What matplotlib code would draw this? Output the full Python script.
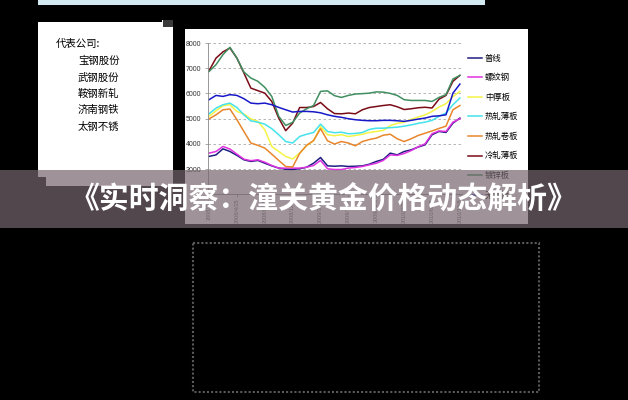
import matplotlib
matplotlib.use('Agg')
import matplotlib.pyplot as plt
from matplotlib.patches import Rectangle, Polygon

plt.rcParams['font.family'] = ['Noto Sans CJK SC', 'DejaVu Sans']

# ---------------- data ----------------
companies_title = "代表公司:"
companies = ["宝钢股份", "武钢股份", "鞍钢新轧", "济南钢铁", "太钢不锈"]

series_names = ["普线", "螺纹钢", "中厚板", "热轧薄板", "热轧卷板", "冷轧薄板", "镀锌板", "无缝管"]
series_colors = ["#1e1e82", "#e032e0", "#f4f445", "#44e2ea", "#e8862c", "#7a0c16", "#3f8f60", "#1818c8"]

puxian = [3500, 3560, 3800, 3695, 3540, 3365, 3300, 3340, 3230, 3125, 3035, 2990, 2980,
          3010, 3070, 3230, 3455, 3125, 3110, 3125, 3100, 3110, 3125, 3190, 3300, 3380,
          3630, 3560, 3695, 3760, 3870, 3960, 4360, 4490, 4450, 4820, 5020]
luowen = [3630, 3695, 3895, 3790, 3590, 3390, 3330, 3365, 3270, 3140, 3035, 3035, 3035,
          3035, 3070, 3140, 3340, 3010, 2980, 2980, 3035, 3060, 3100, 3165, 3230, 3340,
          3560, 3540, 3615, 3730, 3880, 4000, 4400, 4510, 4490, 4860, 4995]
zhonghou = [5090, 5310, 5510, 5550, 5285, 5180, 4990, 4890, 4560, 3895, 3695, 3500, 3400,
            3630, 3920, 4120, 4680, 4360, 4320, 4360, 4290, 4330, 4380, 4450, 4490, 4530,
            4720, 4810, 4860, 4970, 5060, 5150, 5285, 5460, 5590, 5870, 6080]
rezha_bo = [5190, 5415, 5550, 5615, 5440, 5150, 4910, 4860, 4780, 4600, 4360, 4090, 4030,
            4290, 4380, 4450, 4780, 4490, 4440, 4460, 4400, 4410, 4450, 4570, 4620, 4620,
            4640, 4660, 4700, 4750, 4810, 4860, 4930, 5090, 5220, 5550, 5815]
rezha_juan = [4990, 5150, 5350, 5380, 4955, 4490, 4030, 3940, 3830, 3590, 3340, 3100, 3080,
              3620, 3940, 4130, 4600, 4120, 3990, 4090, 4030, 3920, 4090, 4170, 4225, 4340,
              4380, 4200, 4090, 4200, 4330, 4420, 4510, 4610, 4700, 5350, 5520]
lengzha_bo = [6900, 7400, 7650, 7800, 7400, 6810, 6210, 6110, 6010, 5680, 5020, 4520, 4820,
              5440, 5440, 5480, 5640, 5390, 5200, 5190, 5220, 5190, 5350, 5440, 5480, 5520,
              5550, 5470, 5360, 5390, 5430, 5450, 5420, 5770, 5920, 6480, 6715]
duxin = [6870, 7140, 7540, 7830, 7400, 6850, 6610, 6480, 6240, 5880, 5090, 4730, 4850,
         5220, 5390, 5520, 6080, 6100, 5910, 5840, 5920, 5975, 5990, 6010, 6060, 6050,
         6000, 5920, 5750, 5720, 5720, 5720, 5680, 5840, 5950, 6570, 6715]
wufeng = [5750, 5920, 5880, 5950, 5920, 5790, 5615, 5590, 5615, 5550, 5445, 5350, 5260,
          5285, 5285, 5270, 5230, 5150, 5090, 5050, 4995, 4955, 4930, 4915, 4915, 4930,
          4930, 4915, 4890, 4930, 4980, 5020, 5090, 5110, 5150, 6010, 6370]

x_tick_pos = [0, 4, 8, 12, 16, 20, 24, 28, 32, 36]
x_tick_labels = ["2008/1/4", "2008/4/25", "2008/8/15", "2008/12/5", "2009/3/27",
                 "2009/7/17", "2009/11/6", "2010/2/26", "2010/6/18", "2010/10/8"]
y_ticks = [3000, 4000, 5000, 6000, 7000, 8000]

banner_text = "《实时洞察：潼关黄金价格动态解析》"

# ---------------- layout ----------------
W, H = 628, 400
fig = plt.figure(figsize=(6.28, 4.0), dpi=100, facecolor='black')


def px_axes(x0, y0, x1, y1):
    return fig.add_axes([x0 / W, 1 - y1 / H, (x1 - x0) / W, (y1 - y0) / H])


bg = px_axes(0, 0, W, H)
bg.set_xlim(0, W)
bg.set_ylim(H, 0)
bg.axis('off')
bg.set_zorder(0)

# top strip
bg.add_patch(Rectangle((38, 0), 447, 4.5, color='#d4eaf3', lw=0))
# left white box
bg.add_patch(Polygon([(38, 22), (162, 22), (162, 20), (173, 20), (173, 186),
                      (46, 186), (46, 177), (38, 177)], closed=True, color='white', lw=0))
bg.add_patch(Rectangle((163, 20), 10, 7, color='#3a3a3a', lw=0))
bg.text(56, 44, companies_title, fontsize=7.5, color='black', va='center', ha='left')
for i, c in enumerate(companies):
    bg.text(78, 61 + i * 16.4, c, fontsize=7.5, color='black', va='center', ha='left')

# chart white area
bg.add_patch(Rectangle((185, 29), 343, 195, color='white', lw=0))

# bottom dotted frame
bg.add_patch(Rectangle((193, 243), 346, 149, fill=False, ec='#5a5a5a', lw=1.5,
                       ls=(0, (1, 1))))

# ---------------- chart ----------------
ax = px_axes(208, 43, 462, 194.2)
ax.set_zorder(2)
ax.patch.set_alpha(0)
xs = list(range(len(puxian)))
all_series = [puxian, luowen, zhonghou, rezha_bo, rezha_juan, lengzha_bo, duxin, wufeng]
handles = []
for name, vals, col in zip(series_names, all_series, series_colors):
    h, = ax.plot(xs, vals, color=col, lw=1.1, label=name)
    handles.append(h)

ax.set_xlim(-0.15, 36.3)
ax.set_ylim(2000, 8000)
ax.set_yticks(y_ticks)
ax.set_yticklabels([str(v) for v in y_ticks], fontsize=5, color='#333333',
                   family=['Liberation Sans', 'DejaVu Sans'])
ax.set_xticks(x_tick_pos)
ax.set_xticklabels(x_tick_labels, rotation=90, fontsize=4, color='#666666',
                   family=['Liberation Sans', 'DejaVu Sans'])
ax.tick_params(axis='y', length=2, width=0.5, color='#888888', pad=3)
ax.tick_params(axis='x', length=2, width=0.5, color='#888888', pad=1)
ax.grid(axis='y', color='#aaaaaa', ls=(0, (3, 3)), lw=0.6)
for s in ['top', 'right']:
    ax.spines[s].set_visible(False)
for s in ['left', 'bottom']:
    ax.spines[s].set_color('#888888')
    ax.spines[s].set_linewidth(0.6)

leg = ax.legend(handles=handles, loc='upper left', bbox_to_anchor=(468 / W, 1 - 53.5 / H),
                bbox_transform=fig.transFigure, frameon=False, fontsize=6,
                handlelength=1.7, handletextpad=0.35, labelspacing=1.27,
                borderpad=0, borderaxespad=0)

# ---------------- banner overlay ----------------
ov = px_axes(0, 0, W, H)
ov.set_xlim(0, W)
ov.set_ylim(H, 0)
ov.axis('off')
ov.set_zorder(10)
ov.patch.set_alpha(0)
ov.add_patch(Rectangle((0, 170), W, 58, color=(118 / 255, 102 / 255, 110 / 255),
                       alpha=0.7, lw=0))
ov.text(323, 200, banner_text, fontsize=21.5, fontweight='black', color='white',
        ha='center', va='center')

fig.savefig('out.png', dpi=100, facecolor='black')
